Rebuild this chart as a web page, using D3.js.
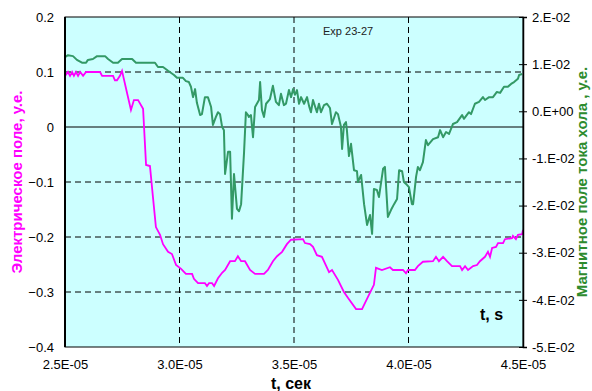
<!DOCTYPE html>
<html>
<head>
<meta charset="utf-8">
<script src="https://cdn.jsdelivr.net/npm/d3@7"></script>
<style>
  body { margin: 0; background: #fff; }
  svg { display: block; font-family: Arial, "Liberation Sans", sans-serif; }
</style>
</head>
<body>
<svg id="chart"></svg>
<script>
const width = 592;
const height = 391;

// time in microseconds (axis shows it as x.xE-05 s)
const eTime = [25.00,25.13,25.22,25.31,25.39,25.48,25.57,25.66,25.79,25.92,26.53,26.62,27.10,27.18,27.27,27.40,27.49,27.66,27.88,28.01,28.19,28.41,28.54,28.71,28.84,28.97,29.15,29.28,29.50,29.67,29.85,30.07,30.28,30.55,30.63,30.81,31.11,31.20,31.29,31.42,31.51,31.68,31.86,31.99,32.21,32.42,32.55,32.69,32.86,33.08,33.30,33.69,33.86,34.08,34.26,34.48,34.69,34.87,35.39,35.48,35.70,35.83,36.00,36.22,36.53,36.66,36.92,37.18,37.40,37.71,37.97,38.23,38.49,38.58,38.84,39.19,39.32,39.76,39.89,39.98,40.28,40.41,40.63,41.07,41.20,41.33,41.51,41.68,41.90,42.25,42.34,42.47,42.60,42.82,42.99,43.12,43.34,43.47,43.56,43.65,43.82,43.91,44.13,44.21,44.52,44.56,44.69,44.78,44.96,45.00];
// electric field, arb. units (left axis)
const eField = [0.093,0.100,0.093,0.100,0.093,0.100,0.093,0.100,0.093,0.100,0.100,0.093,0.093,0.085,0.085,0.093,0.102,0.071,0.031,0.049,0.049,0.033,-0.069,-0.071,-0.127,-0.182,-0.196,-0.213,-0.227,-0.231,-0.251,-0.258,-0.267,-0.267,-0.276,-0.284,-0.284,-0.289,-0.284,-0.284,-0.289,-0.275,-0.265,-0.260,-0.244,-0.244,-0.235,-0.244,-0.244,-0.260,-0.267,-0.267,-0.260,-0.244,-0.235,-0.227,-0.213,-0.205,-0.204,-0.211,-0.213,-0.218,-0.233,-0.236,-0.264,-0.260,-0.278,-0.300,-0.313,-0.331,-0.331,-0.309,-0.287,-0.256,-0.260,-0.255,-0.260,-0.260,-0.266,-0.260,-0.260,-0.253,-0.245,-0.244,-0.236,-0.244,-0.236,-0.244,-0.253,-0.253,-0.260,-0.253,-0.260,-0.253,-0.251,-0.244,-0.236,-0.227,-0.236,-0.220,-0.218,-0.211,-0.211,-0.204,-0.202,-0.198,-0.204,-0.196,-0.195,-0.187];

const hTime = [25.00,25.13,25.35,25.52,25.74,25.92,26.00,26.22,26.40,26.75,26.88,27.10,27.31,27.49,27.93,28.10,28.93,29.06,29.28,29.50,29.76,29.89,30.15,30.28,30.41,30.50,30.59,30.68,30.76,30.90,30.98,31.11,31.24,31.38,31.46,31.59,31.68,31.77,31.86,31.94,31.99,32.12,32.21,32.29,32.38,32.51,32.60,32.69,32.82,32.90,32.99,33.03,33.12,33.21,33.30,33.47,33.52,33.60,33.69,33.78,33.95,34.08,34.21,34.34,34.43,34.56,34.65,34.78,34.87,34.96,35.04,35.13,35.22,35.31,35.44,35.57,35.66,35.74,35.83,36.00,36.09,36.18,36.31,36.44,36.57,36.66,36.83,36.92,37.05,37.10,37.18,37.27,37.31,37.40,37.49,37.62,37.75,37.79,37.93,38.06,38.19,38.32,38.41,38.49,38.62,38.71,38.89,38.97,39.10,39.24,39.37,39.50,39.59,39.72,39.80,39.93,40.02,40.15,40.20,40.33,40.41,40.50,40.63,40.76,40.85,41.07,41.29,41.38,41.51,41.64,41.77,41.94,42.12,42.34,42.42,42.64,42.73,42.90,43.08,43.25,43.34,43.52,43.69,43.86,44.00,44.17,44.34,44.48,44.61,44.78,44.83,44.96];
// Hall current magnetic field, arb. units (right axis)
const hField = [0.0115,0.0119,0.0117,0.0109,0.0103,0.0103,0.0109,0.0111,0.0117,0.0117,
  0.0111,0.0103,0.0103,0.0111,0.0111,0.0103,0.0103,0.0094,0.0094,0.0086,
  0.0077,0.0071,0.0071,0.0064,0.0062,0.0052,0.0030,0.0047,0.0018,-0.0008,
  -0.0006,0.0030,0.0030,0.0009,-0.0029,-0.0012,-0.0002,-0.0006,-0.0033,-0.0040,
  -0.0133,-0.0086,-0.0086,-0.0228,-0.0133,-0.0207,-0.0212,-0.0197,-0.0086,-0.0002,
  -0.0008,-0.0012,-0.0008,-0.0055,0.0009,0.0024,0.0062,0.0003,-0.0012,0.0016,
  0.0026,0.0054,0.0020,0.0013,0.0037,0.0013,0.0016,0.0045,0.0030,0.0047,
  0.0035,0.0045,0.0016,0.0030,0.0016,0.0030,0.0011,-0.0002,0.0024,-0.0002,
  0.0016,-0.0002,0.0013,0.0016,0.0007,-0.0027,-0.0002,-0.0006,-0.0033,-0.0080,
  -0.0029,-0.0023,-0.0040,-0.0095,-0.0069,-0.0125,-0.0127,-0.0150,-0.0135,-0.0197,
  -0.0241,-0.0220,-0.0260,-0.0165,-0.0167,-0.0182,-0.0122,-0.0118,-0.0224,-0.0209,
  -0.0197,-0.0186,-0.0125,-0.0127,-0.0150,-0.0156,-0.0161,-0.0197,-0.0197,-0.0139,
  -0.0118,-0.0125,-0.0108,-0.0061,-0.0072,-0.0059,-0.0055,-0.0040,-0.0055,-0.0044,
  -0.0048,-0.0027,-0.0023,-0.0008,-0.0016,-0.0002,-0.0006,0.0016,0.0020,0.0030,
  0.0024,0.0030,0.0030,0.0041,0.0039,0.0052,0.0052,0.0058,0.0062,0.0069,
  0.0077,0.0079];

const xTicks = [25, 30, 35, 40, 45];
const leftTicks = [0.2, 0.1, 0, -0.1, -0.2, -0.3, -0.4];
const rightTicks = [0.02, 0.01, 0, -0.01, -0.02, -0.03, -0.04, -0.05];

const margin = { top: 17, right: 69, bottom: 44, left: 65 };

const svg = d3.select("#chart")
  .attr("width", width)
  .attr("height", height);

const x = d3.scaleLinear().domain([25, 45]).range([margin.left, width - margin.right]);
const yL = d3.scaleLinear().domain([-0.4, 0.2]).range([height - margin.bottom, margin.top]);
const yR = d3.scaleLinear().domain([-0.05, 0.02]).range([height - margin.bottom, margin.top]);

const x0 = x.range()[0], x1 = x.range()[1];
const y0 = yL.range()[1], y1 = yL.range()[0];

// plot background
svg.append("rect")
  .attr("x", x0).attr("y", y0)
  .attr("width", x1 - x0).attr("height", y1 - y0)
  .attr("fill", "#ccffff");

// dashed grid
svg.append("g")
  .selectAll("line")
  .data(leftTicks.filter(d => d !== 0 && d !== 0.2 && d !== -0.4))
  .enter().append("line")
  .attr("x1", x0).attr("x2", x1)
  .attr("y1", d => yL(d)).attr("y2", d => yL(d))
  .attr("stroke", "#000").attr("stroke-width", 1)
  .attr("stroke-dasharray", "6,4");

svg.append("g")
  .selectAll("line")
  .data(xTicks.slice(1, -1))
  .enter().append("line")
  .attr("x1", d => x(d)).attr("x2", d => x(d))
  .attr("y1", y0).attr("y2", y1)
  .attr("stroke", "#000").attr("stroke-width", 1)
  .attr("stroke-dasharray", "6,4");

// zero line
svg.append("line")
  .attr("x1", x0).attr("x2", x1)
  .attr("y1", yL(0)).attr("y2", yL(0))
  .attr("stroke", "#000").attr("stroke-width", 1.2);

// series
const hallLine = d3.line()
  .x((d, i) => x(hTime[i]))
  .y(d => yR(d));

svg.append("path")
  .datum(hField)
  .attr("fill", "none")
  .attr("stroke", "#339966")
  .attr("stroke-width", 2)
  .attr("stroke-linejoin", "round")
  .attr("d", hallLine);

const eLine = d3.line()
  .x((d, i) => x(eTime[i]))
  .y(d => yL(d));

svg.append("path")
  .datum(eField)
  .attr("fill", "none")
  .attr("stroke", "#ff00ff")
  .attr("stroke-width", 1.8)
  .attr("d", eLine);

// frame
svg.append("rect")
  .attr("x", x0).attr("y", y0)
  .attr("width", x1 - x0).attr("height", y1 - y0)
  .attr("fill", "none")
  .attr("stroke", "#000").attr("stroke-width", 1);

svg.append("line")
  .attr("x1", x0).attr("x2", x0)
  .attr("y1", y0).attr("y2", y1)
  .attr("stroke", "#000").attr("stroke-width", 2);

// left axis
const leftAxis = svg.append("g")
  .attr("transform", `translate(${x0},0)`)
  .call(d3.axisLeft(yL).tickValues(leftTicks).tickSize(0).tickPadding(11)
    .tickFormat(d => d === 0 ? "0" : d3.format(".1f")(d)));
leftAxis.select(".domain").remove();
leftAxis.selectAll("text")
  .attr("font-size", "13px")
  .attr("font-family", "Arial, 'Liberation Sans', sans-serif")
  .attr("fill", "#000");

// right axis with crossing ticks
const rightAxis = svg.append("g")
  .attr("transform", `translate(${x1},0)`)
  .call(d3.axisRight(yR).tickValues(rightTicks).tickSize(4).tickPadding(5)
    .tickFormat(d => {
      const m = Math.round(d * 100);
      return m === 0 ? "0.E+00" : `${m}.E-02`;
    }));
rightAxis.select(".domain").attr("stroke", "#000").attr("stroke-width", 1.5);
rightAxis.selectAll(".tick line").attr("x1", -4).attr("stroke", "#000");
rightAxis.selectAll("text")
  .attr("font-size", "13px")
  .attr("font-family", "Arial, 'Liberation Sans', sans-serif")
  .attr("fill", "#000");

// bottom axis
const bottomAxis = svg.append("g")
  .attr("transform", `translate(0,${y1})`)
  .call(d3.axisBottom(x).tickValues(xTicks).tickSize(0).tickPadding(13)
    .tickFormat(d => `${(d / 10).toFixed(1)}E-05`));
bottomAxis.select(".domain").remove();
bottomAxis.selectAll("text")
  .attr("font-size", "13px")
  .attr("font-family", "Arial, 'Liberation Sans', sans-serif")
  .attr("fill", "#000");

// titles
svg.append("text")
  .attr("x", 291).attr("y", 389)
  .attr("text-anchor", "middle")
  .attr("font-size", "16px").attr("font-weight", "bold")
  .text("t, сек");

svg.append("text")
  .attr("x", 480).attr("y", 320)
  .attr("font-size", "16px").attr("font-weight", "bold")
  .text("t, s");

svg.append("text")
  .attr("x", 323).attr("y", 35)
  .attr("font-size", "11px").attr("fill", "#222")
  .text("Exp 23-27");

svg.append("text")
  .attr("transform", `translate(22,${(y0 + y1) / 2}) rotate(-90)`)
  .attr("text-anchor", "middle")
  .attr("font-size", "15px").attr("font-weight", "bold")
  .attr("fill", "#ff00ff")
  .text("Электрическое поле, у.е.");

svg.append("text")
  .attr("transform", `translate(587,${(y0 + y1) / 2}) rotate(-90)`)
  .attr("text-anchor", "middle")
  .attr("font-size", "15px").attr("font-weight", "bold")
  .attr("fill", "#2e8b2e")
  .text("Магнитное поле тока хола , у.е.");
</script>
</body>
</html>
